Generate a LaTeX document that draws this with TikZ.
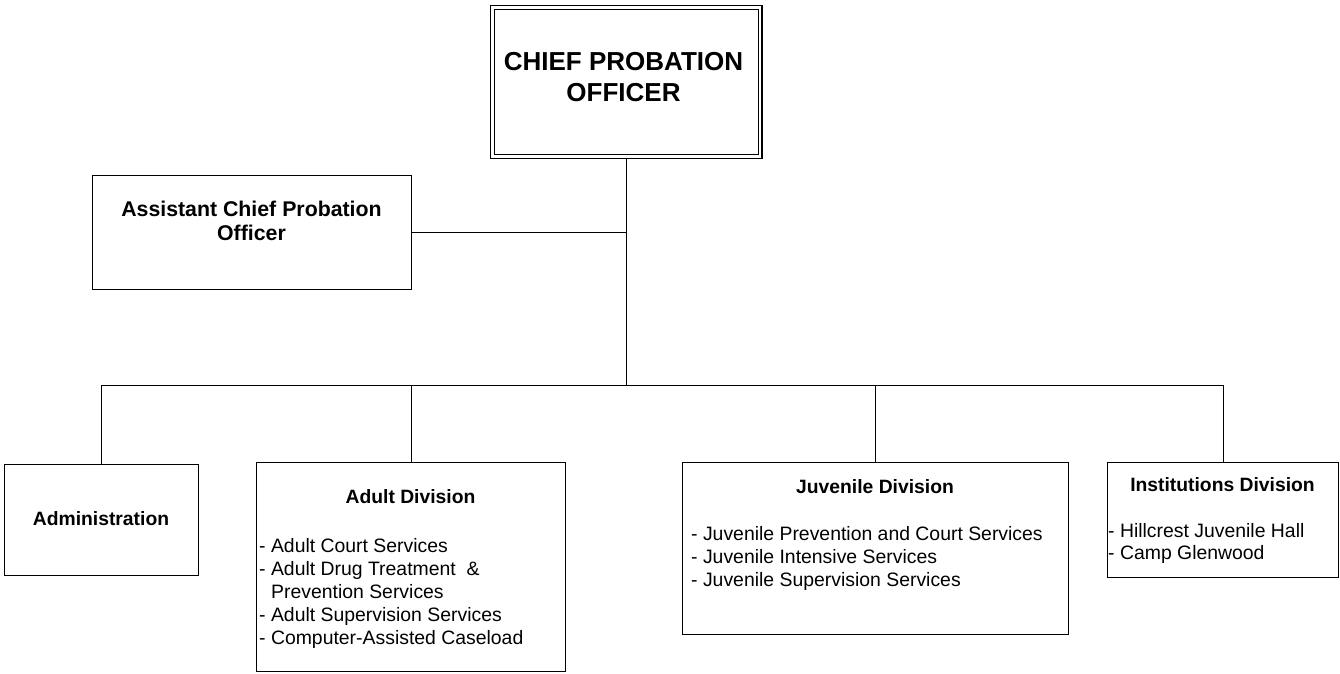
\documentclass[tikz,border=0pt]{standalone}
\usepackage{fontspec}
\setmainfont{Liberation Sans}
\usetikzlibrary{positioning}
\tikzset{
  orgbox/.style ={draw, line width=1.2pt, inner sep=0pt, anchor=north west},
  topbox/.style ={orgbox, double, double distance=2.6pt, outer sep=2.5pt},
  hd/.style     ={font=\bfseries\fontsize{19.3}{22}\selectfont, inner sep=0pt, anchor=base},
  items/.style  ={font=\fontsize{19.4}{23}\selectfont, align=left, inner sep=0pt, anchor=north west},
  ln/.style     ={line width=1.2pt},
}
\begin{document}
\begin{tikzpicture}[x=1pt,y=-1pt]
\useasboundingbox (0,0) rectangle (1340,673);
% boxes
\node[topbox,minimum width=267.5pt,minimum height=149pt] (chief) at (490,5) {};
\node[orgbox,minimum width=319pt,minimum height=114pt] (asst) at (92,175) {};
\node[orgbox,minimum width=194pt,minimum height=111pt] (admin) at (4,464) {};
\node[orgbox,minimum width=309pt,minimum height=209pt] (adult) at (256,462) {};
\node[orgbox,minimum width=386pt,minimum height=172pt] (juv) at (682,462) {};
\node[orgbox,minimum width=231pt,minimum height=115pt] (inst) at (1107,462) {};
% texts
\node[font=\bfseries\fontsize{26}{31}\selectfont,align=center,inner sep=0pt,anchor=north] (chieflbl) at (623.5,52.4) {CHIEF PROBATION\\OFFICER};
\node[font=\bfseries\fontsize{21.3}{24}\selectfont,align=center,inner sep=0pt,anchor=north] (asstlbl) at (251.5,200.6) {Assistant Chief Probation\\Officer};
\node[hd] (adminlbl) at (101,525) {Administration};
\node[hd] (adultlbl) at (410.5,503) {Adult Division};
\node[hd] (juvlbl) at (875,493) {Juvenile Division};
\node[hd] (instlbl) at (1222.5,491) {Institutions Division};
\node[items] (adultlst) at (259,538) {- Adult Court Services\\- Adult Drug Treatment\ \ \&\\\hspace*{12pt}Prevention Services\\- Adult Supervision Services\\- Computer-Assisted Caseload};
\node[items] (juvlst) at (691,526) {- Juvenile Prevention and Court Services\\- Juvenile Intensive Services\\- Juvenile Supervision Services};
\node[items,font=\fontsize{19.4}{22}\selectfont] (instlst) at (1108,523) {- Hillcrest Juvenile Hall\\- Camp Glenwood};
% connectors
\coordinate (bus) at (chief.south |- 0,385.5);
\draw[ln] (chief.south) -- (bus);
\draw[ln] (asst.east) -- (asst.east -| chief.south);
\draw[ln] (admin.north) |- (inst.north |- bus) -- (inst.north);
\draw[ln] (adult.north) -- (adult.north |- bus);
\draw[ln] (juv.north) -- (juv.north |- bus);
\end{tikzpicture}
\end{document}
